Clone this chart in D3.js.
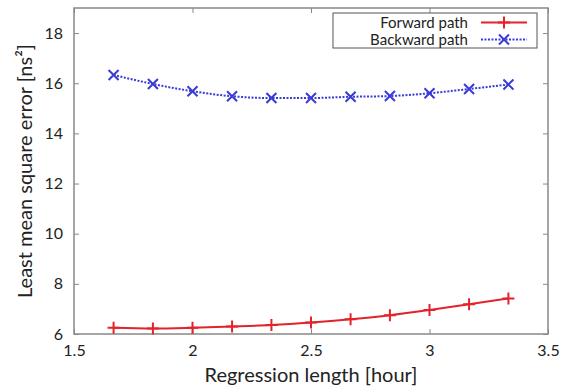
<!DOCTYPE html>
<html>
<head>
<meta charset="utf-8">
<script src="https://cdn.jsdelivr.net/npm/d3@7"></script>
<style>
  body { margin: 0; background: #fff; }
  text { font-family: Lato, "Open Sans", sans-serif; fill: #222; }
</style>
</head>
<body>
<div id="chart-area"></div>
<script>
// Datos del gráfico
const lengths = [1.667, 1.833, 2.0, 2.167, 2.333, 2.5, 2.667, 2.833, 3.0, 3.167, 3.333];
const forwardPath = [6.25, 6.22, 6.25, 6.3, 6.36, 6.46, 6.59, 6.75, 6.96, 7.19, 7.42];
const backwardPath = [16.33, 15.97, 15.68, 15.48, 15.41, 15.41, 15.46, 15.49, 15.6, 15.77, 15.95];
const xTicks = [1.5, 2, 2.5, 3, 3.5];
const yTicks = [6, 8, 10, 12, 14, 16, 18];

const width = 568;
const height = 387;
const margin = { top: 8, right: 20, bottom: 53, left: 74 };
const innerW = width - margin.left - margin.right;
const innerH = height - margin.top - margin.bottom;

const svg = d3.select("#chart-area")
    .append("svg")
    .attr("width", width)
    .attr("height", height);

const g = svg.append("g")
    .attr("transform", `translate(${margin.left},${margin.top})`);

// Escalas
const x = d3.scaleLinear().domain([1.5, 3.5]).range([0, innerW]);
const y = d3.scaleLinear().domain([6, 19]).range([innerH, 0]);

const frameColor = "#888";

// Ejes (ticks hacia adentro)
const axes = [
    { axis: d3.axisBottom(x).tickValues(xTicks).tickFormat(d3.format("")), t: `translate(0,${innerH})`, labels: true },
    { axis: d3.axisTop(x).tickValues(xTicks), t: "translate(0,0)", labels: false },
    { axis: d3.axisLeft(y).tickValues(yTicks), t: "translate(0,0)", labels: true },
    { axis: d3.axisRight(y).tickValues(yTicks), t: `translate(${innerW},0)`, labels: false }
];
axes.forEach(a => {
    a.axis.tickSizeInner(-5).tickSizeOuter(0).tickPadding(11);
    const ag = g.append("g").attr("transform", a.t).call(a.axis);
    ag.select(".domain").remove();
    ag.selectAll("line").attr("stroke", frameColor);
    ag.selectAll("text").attr("font-size", "16px").attr("fill", "#222")
        .style("font-family", "Lato, sans-serif");
    if (!a.labels) ag.selectAll("text").remove();
});

// Marco
g.append("rect")
    .attr("width", innerW)
    .attr("height", innerH)
    .attr("fill", "none")
    .attr("stroke", frameColor)
    .attr("stroke-width", 1.5);

// Líneas
const line = d3.line().curve(d3.curveMonotoneX);

const fwd = lengths.map((d, i) => [x(d), y(forwardPath[i])]);
const bwd = lengths.map((d, i) => [x(d), y(backwardPath[i])]);

const red = "#e3232b";
const blue = "#3a3ad8";

g.append("path").attr("d", line(fwd))
    .attr("fill", "none").attr("stroke", red).attr("stroke-width", 2);
g.append("path").attr("d", line(bwd))
    .attr("fill", "none").attr("stroke", blue).attr("stroke-width", 2)
    .attr("stroke-dasharray", "2,1.5");

function plus(sel, cx, cy, s) {
    sel.append("path")
        .attr("d", `M${cx - s},${cy}H${cx + s}M${cx},${cy - s}V${cy + s}`)
        .attr("stroke", red).attr("stroke-width", 2).attr("fill", "none");
}
function cross(sel, cx, cy, s) {
    sel.append("path")
        .attr("d", `M${cx - s},${cy - s}L${cx + s},${cy + s}M${cx - s},${cy + s}L${cx + s},${cy - s}`)
        .attr("stroke", blue).attr("stroke-width", 2).attr("fill", "none");
}
fwd.forEach(p => plus(g, p[0], p[1], 6));
bwd.forEach(p => cross(g, p[0], p[1], 5));

// Leyenda
const lg = svg.append("g");
lg.append("rect")
    .attr("x", 333).attr("y", 13)
    .attr("width", 204).attr("height", 35)
    .attr("fill", "#fff").attr("stroke", "#555").attr("stroke-width", 1);
const legendItems = [
    { name: "Forward path", y: 22.5, type: "plus" },
    { name: "Backward path", y: 39.5, type: "cross" }
];
legendItems.forEach(it => {
    lg.append("text")
        .attr("x", 468).attr("y", it.y + 5)
        .attr("text-anchor", "end")
        .attr("font-size", "15px")
        .text(it.name);
    const seg = lg.append("path")
        .attr("d", `M481,${it.y}H527`)
        .attr("fill", "none")
        .attr("stroke-width", 2)
        .attr("stroke", it.type === "plus" ? red : blue);
    if (it.type === "plus") {
        plus(lg, 504, it.y, 6);
    } else {
        seg.attr("stroke-dasharray", "2,1.5");
        cross(lg, 504, it.y, 5);
    }
});

// Etiquetas de ejes
svg.append("text")
    .attr("x", margin.left + innerW / 2)
    .attr("y", 382)
    .attr("text-anchor", "middle")
    .attr("font-size", "20px")
    .text("Regression length [hour]");

svg.append("text")
    .attr("transform", `translate(32,${margin.top + innerH / 2}) rotate(-90)`)
    .attr("text-anchor", "middle")
    .attr("font-size", "20px")
    .text("Least mean square error [ns²]");
</script>
</body>
</html>
